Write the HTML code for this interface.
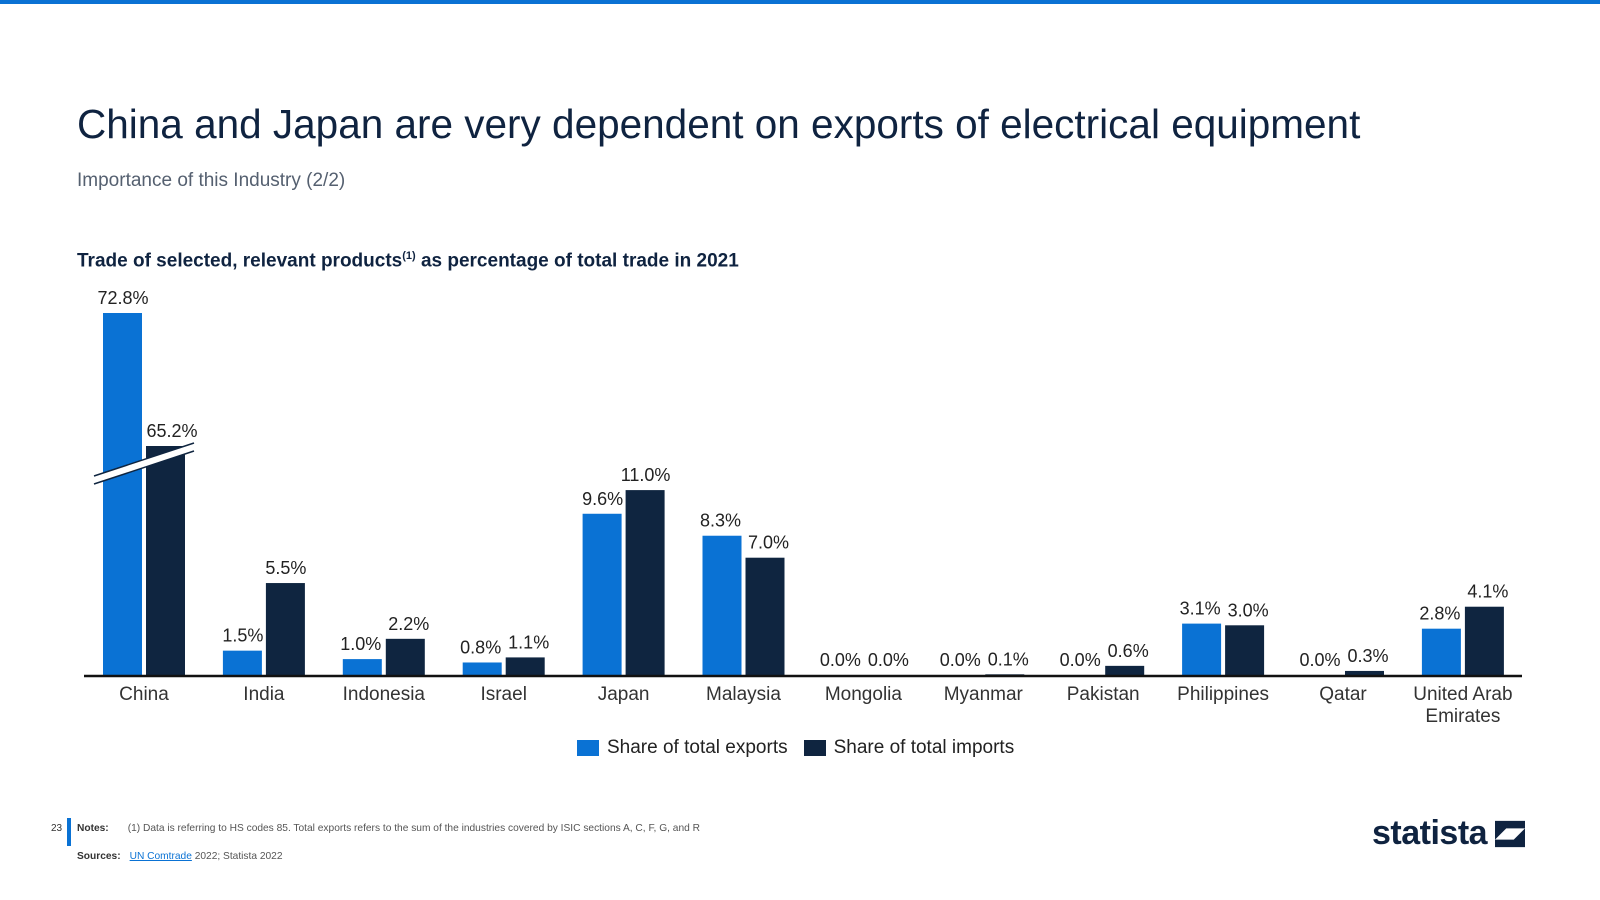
<!DOCTYPE html>
<html><head><meta charset="utf-8"><style>
body{margin:0;width:1600px;height:900px;background:#fff;font-family:"Liberation Sans",sans-serif;position:relative;overflow:hidden}
.a{position:absolute}
</style></head><body>
<div class="a" style="left:0;top:0;width:1600px;height:4px;background:#0a72d4"></div>
<div class="a" style="left:77px;top:101px;font-size:40.5px;color:#0f2340;white-space:nowrap">China and Japan are very dependent on exports of electrical equipment</div>
<div class="a" style="left:77px;top:170px;font-size:19px;color:#556070">Importance of this Industry (2/2)</div>
<div class="a" style="left:77px;top:250px;font-size:19px;font-weight:bold;color:#0f2340;white-space:nowrap">Trade of selected, relevant products<sup style="font-size:11px">(1)</sup> as percentage of total trade in 2021</div>
<svg class="a" style="left:0;top:0" width="1600" height="900" id="chart"></svg>
<div class="a" style="left:577px;top:737px;font-size:19px;color:#222;display:flex;align-items:center;white-space:nowrap">
<span style="width:22px;height:16px;background:#0a72d4;display:inline-block;margin-right:8px"></span><span>Share of total exports</span>
<span style="width:22px;height:16px;background:#0f2540;display:inline-block;margin:0 8px 0 16px"></span><span>Share of total imports</span></div>
<div class="a" style="left:51px;top:823px;font-size:10px;color:#333">23</div>
<div class="a" style="left:67px;top:818px;width:4px;height:28px;background:#0a72d4"></div>
<div class="a" style="left:77px;top:823px;font-size:10.2px;color:#555;white-space:nowrap"><b style="color:#333">Notes:</b><span style="margin-left:19px">(1) Data is referring to HS codes 85. Total exports refers to the sum of the industries covered by ISIC sections A, C, F, G, and R</span></div>
<div class="a" style="left:77px;top:851px;font-size:10.2px;color:#555;white-space:nowrap"><b style="color:#333">Sources:</b><span style="margin-left:9px"><u style="color:#0a72d4">UN Comtrade</u> 2022; Statista 2022</span></div>
<div class="a" style="left:1372px;top:814px;font-size:34px;font-weight:bold;color:#0f2340;letter-spacing:-0.5px;display:flex;align-items:center">statista<svg width="30" height="28" style="margin-left:8px" viewBox="0 0 32 28"><polygon points="0,0 32,0 32,8 12,8 0,20" fill="#0f2340"/><polygon points="32,8 32,28 0,28 0,20 20,20" fill="#0f2340"/></svg></div>
<script>
const categories=["China","India","Indonesia","Israel","Japan","Malaysia","Mongolia","Myanmar","Pakistan","Philippines","Qatar","United Arab|Emirates"];
const exportsShare=[72.8,1.5,1.0,0.8,9.6,8.3,0.0,0.0,0.0,3.1,0.0,2.8];
const importsShare=[65.2,5.5,2.2,1.1,11.0,7.0,0.0,0.1,0.6,3.0,0.3,4.1];
const svg=document.getElementById('chart');const NS='http://www.w3.org/2000/svg';
const base=676,pxPer=16.9,x0=144,step=119.9;
function y(v){return v>20?base-(230+(v-65.2)*17.5):base-v*pxPer;}
function xc(i){return x0+i*step;}
function mk(t,a){const e=document.createElementNS(NS,t);for(const k in a)e.setAttribute(k,a[k]);svg.appendChild(e);return e;}
function lbl(x,yy,s){const t=mk('text',{x:x,y:yy,'text-anchor':'middle','font-size':18,fill:'#222','font-family':'Liberation Sans'});t.textContent=s;

}
categories.forEach((c,i)=>{
 const cx=xc(i);
 const ev=exportsShare[i],iv=importsShare[i];
 const r1=mk('rect',{x:cx-41,y:y(ev),width:39,height:base-y(ev),fill:'#0a72d4'});
 
 
 const r2=mk('rect',{x:cx+2,y:y(iv),width:39,height:base-y(iv),fill:'#0f2540'});
 
 
 const ey=Math.min(y(ev),base-1),iy=Math.min(y(iv),base-1);
 let ex=cx-21,ix=cx+22;
 if(Math.abs(ey-iy)<22&&ev<20){ex=cx-23;ix=cx+25;}
 if(ev>20){ix=cx+28;}
 lbl(ex,ey-9,ev.toFixed(1)+'%');lbl(ix,iy-9,iv.toFixed(1)+'%');
 const parts=c.split('|');
 parts.forEach((p,j)=>{const t=mk('text',{x:cx,y:700+j*22,'text-anchor':'middle','font-size':19,fill:'#333','font-family':'Liberation Sans'});t.textContent=p;
 
 });
});
const ax=mk('line',{x1:84,y1:base,x2:1522,y2:base,stroke:'#111','stroke-width':2.5});


const br=mk('polygon',{points:'94,476 194,443 194,451 94,484',fill:'#fff',stroke:'none'});


mk('line',{x1:94,y1:476,x2:194,y2:443,stroke:'#0f2540','stroke-width':1.5});
mk('line',{x1:94,y1:484,x2:194,y2:451,stroke:'#0f2540','stroke-width':1.5});
</script>
</body></html>
